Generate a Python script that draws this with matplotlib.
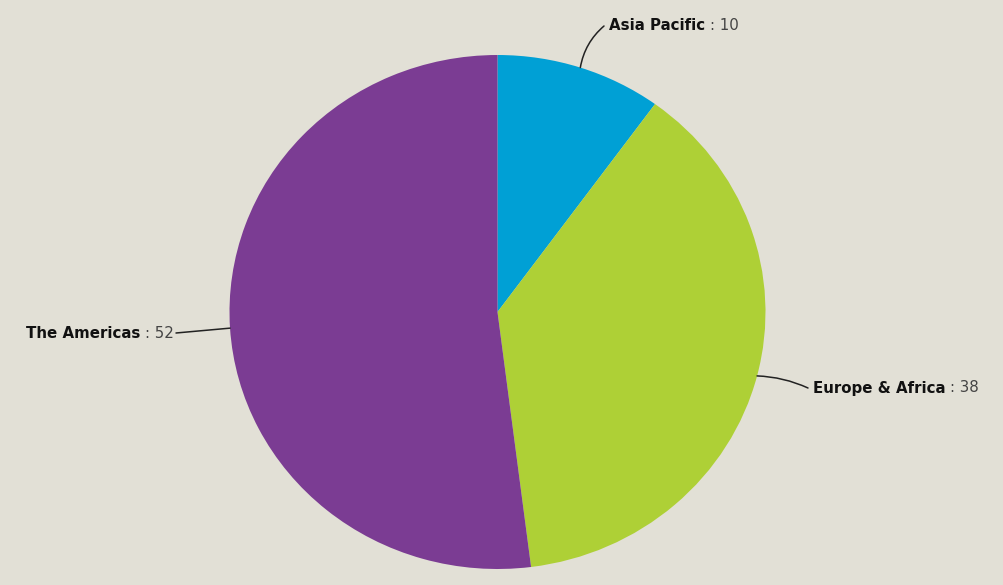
import matplotlib.pyplot as plt
import numpy as np

regions = ["Asia Pacific", "Europe & Africa", "The Americas"]
values = [10, 38, 52]
colors = ["#00a0d5", "#aed036", "#7b3c93"]
bg = "#e2e0d6"

fig = plt.figure(figsize=(10.04, 5.85), dpi=100)
fig.patch.set_facecolor(bg)
ax = fig.add_axes([0, 0, 1, 1])
ax.set_facecolor(bg)

wedges, _ = ax.pie(values, colors=colors, startangle=90, counterclock=False,
                   wedgeprops=dict(linewidth=0))
ax.set_aspect('auto')
# pie centre at (497.5, 312) px, radii 268 x 257 px
ax.set_xlim(-497.5 / 268, (1004 - 497.5) / 268)
ax.set_ylim(-(585 - 312) / 257, 312 / 257)
ax.axis('off')

# label anchor positions in figure pixels (x, y from top), alignment, curve
label_pos = [(604, 26, 'left', 0.18), (808, 388, 'left', 0.1), (176, 333, 'right', 0.0)]
fs = 10.8

fig.canvas.draw()
renderer = fig.canvas.get_renderer()
for w, name, val, (px, py, ha, rad) in zip(wedges, regions, values, label_pos):
    ang = np.deg2rad((w.theta1 + w.theta2) / 2)
    edge = (np.cos(ang), np.sin(ang))
    xy_text = (px / 1004, 1 - py / 585)
    ax.annotate("", xy=edge, xycoords='data', xytext=xy_text, textcoords='figure fraction',
                arrowprops=dict(arrowstyle='-', color='#222222', lw=1.1,
                                shrinkA=0, shrinkB=0,
                                connectionstyle="arc3,rad=%s" % rad))
    gap = 5
    if ha == 'left':
        t1 = fig.text((px + gap) / 1004, 1 - py / 585, name, fontsize=fs, fontweight='bold',
                      color='#111111', ha='left', va='center')
        bb = t1.get_window_extent(renderer)
        fig.text((bb.x1 + 5) / 1004, 1 - py / 585, ": %d" % val, fontsize=fs,
                 color='#444444', ha='left', va='center')
    else:
        t2 = fig.text((px - 2) / 1004, 1 - py / 585, ": %d" % val, fontsize=fs,
                      color='#444444', ha='right', va='center')
        bb = t2.get_window_extent(renderer)
        fig.text((bb.x0 - 5) / 1004, 1 - py / 585, name, fontsize=fs, fontweight='bold',
                 color='#111111', ha='right', va='center')

plt.savefig('out.png', dpi=100, facecolor=bg)
